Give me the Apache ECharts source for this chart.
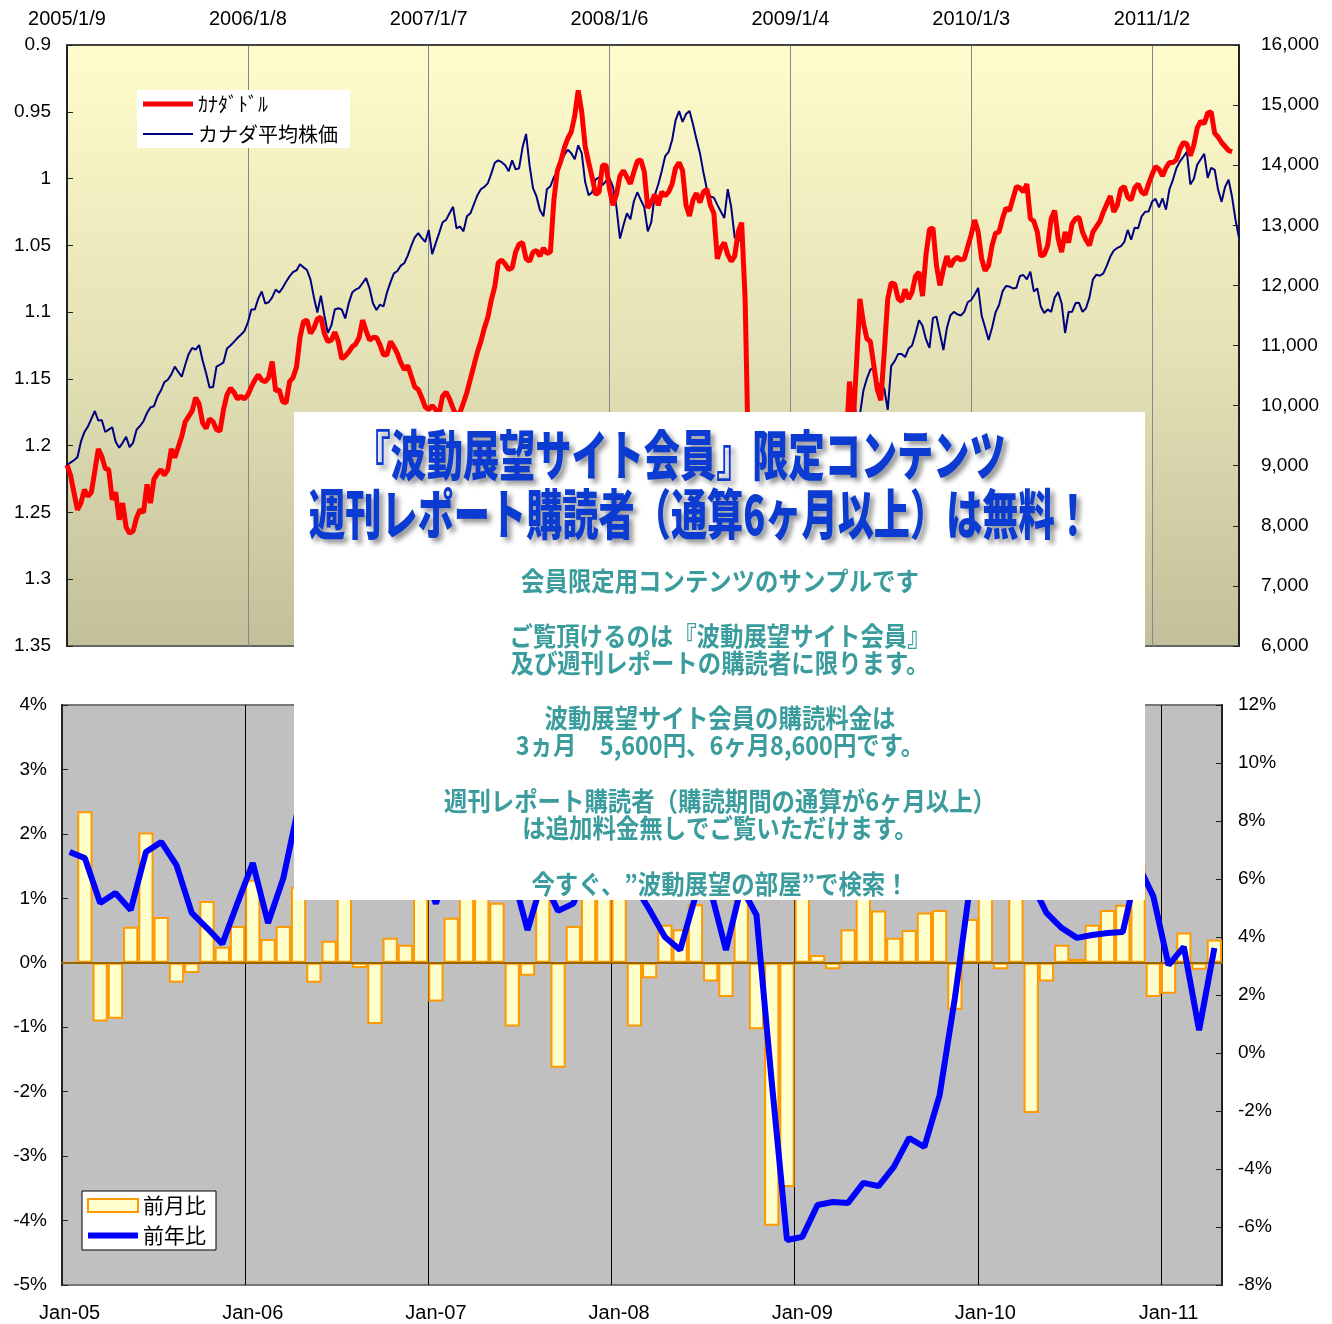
<!DOCTYPE html>
<html><head><meta charset="utf-8">
<script src="https://cdn.jsdelivr.net/npm/echarts@6/dist/echarts.min.js"></script>
<style>html,body{margin:0;padding:0;background:#fff}#c{width:1332px;height:1324px}</style>
</head><body><div id="c"></div>
<script>
// ---------- DATA ----------
const weekStart = [2005, 1, 9];     // first weekly category
const weekCount = 338;
const monthStart = [2005, 1];        // first monthly category
const monthCount = 76;
const monthNames = ['Jan','Feb','Mar','Apr','May','Jun','Jul','Aug','Sep','Oct','Nov','Dec'];

// カナダドル (USD/CAD), weekly, left inverted axis
const cadValues = [
1.2145,1.222,1.235,1.248,1.243,1.233,1.238,1.235,1.219,1.2025,
1.208,1.217,1.218,1.2405,1.235,1.2555,1.243,1.261,1.2655,1.264,
1.254,1.248,1.250,1.229,1.243,1.225,1.221,1.218,1.222,1.218,
1.2025,1.209,1.201,1.193,1.182,1.178,1.174,1.164,1.169,1.183,
1.187,1.180,1.182,1.188,1.189,1.173,1.162,1.157,1.160,1.165,
1.163,1.165,1.162,1.156,1.151,1.147,1.151,1.152,1.149,1.137,
1.159,1.158,1.167,1.168,1.152,1.149,1.141,1.119,1.107,1.106,
1.116,1.112,1.105,1.104,1.116,1.122,1.121,1.115,1.122,1.135,
1.133,1.130,1.126,1.124,1.119,1.106,1.114,1.121,1.119,1.119,
1.1245,1.132,1.132,1.122,1.126,1.131,1.138,1.143,1.140,1.148,
1.156,1.158,1.164,1.171,1.173,1.170,1.173,1.176,1.163,1.160,
1.165,1.172,1.178,1.175,1.168,1.160,1.150,1.140,1.130,1.122,
1.112,1.104,1.091,1.081,1.063,1.061,1.064,1.068,1.067,1.055,
1.049,1.048,1.060,1.062,1.055,1.054,1.058,1.052,1.056,1.055,
1.016,0.994,0.987,0.977,0.970,0.965,0.953,0.934,0.950,0.976,
0.988,0.999,1.012,1.010,0.990,0.990,1.008,1.020,1.012,0.998,
0.994,0.999,1.004,0.995,0.987,0.986,0.995,1.022,1.018,1.012,
1.020,1.010,1.013,1.010,1.004,0.992,0.988,0.994,1.020,1.028,
1.016,1.011,1.018,1.010,1.008,1.020,1.026,1.060,1.052,1.048,
1.057,1.062,1.058,1.040,1.033,1.091,1.22,1.24,1.21,1.23,
1.22,1.25,1.24,1.22,1.23,1.25,1.26,1.24,1.22,1.23,
1.25,1.24,1.26,1.27,1.25,1.27,1.29,1.26,1.25,1.24,
1.22,1.21,1.20,1.19,1.20,1.152,1.185,1.14,1.090,1.108,
1.12,1.122,1.14,1.158,1.166,1.13,1.09,1.078,1.079,1.09,
1.092,1.083,1.09,1.085,1.073,1.07,1.088,1.057,1.038,1.037,
1.065,1.080,1.068,1.058,1.066,1.061,1.059,1.061,1.060,1.051,
1.042,1.031,1.040,1.060,1.069,1.065,1.050,1.041,1.040,1.030,
1.022,1.024,1.015,1.006,1.007,1.010,1.004,1.030,1.032,1.040,
1.058,1.057,1.050,1.030,1.024,1.045,1.055,1.040,1.048,1.034,
1.030,1.029,1.040,1.046,1.050,1.040,1.036,1.032,1.025,1.019,
1.013,1.025,1.020,1.008,1.006,1.014,1.016,1.007,1.004,1.010,
1.012,1.004,0.997,0.991,0.993,0.998,0.992,0.988,0.988,0.986,
0.978,0.973,0.974,0.983,0.975,0.962,0.957,0.959,0.951,0.950,
0.966,0.969,0.973,0.976,0.979,0.980,null,null];

// カナダ平均株価, weekly, right axis
const tsxValues = [
9011,9050,9090,9140,9400,9560,9650,9780,9910,9750,
9760,9560,9600,9640,9400,9300,9380,9480,9310,9380,
9600,9660,9740,9877,9970,9990,10150,10250,10390,10430,
10520,10650,10560,10480,10680,10860,10960,10930,11008,10750,
10540,10300,10310,10650,10680,10720,10950,11000,11060,11124,
11180,11240,11380,11600,11600,11780,11900,11700,11720,11800,
11930,11880,11960,12060,12150,12223,12250,12350,12300,12256,
12100,11800,11550,11830,11500,11210,11330,11600,11620,11600,
11450,11700,11880,11930,11960,12040,12120,11950,11700,11590,
11680,11650,11880,12050,12200,12240,12330,12370,12500,12660,
12800,12870,12790,12723,12923,12520,12700,12870,13050,13090,
13200,13307,12950,12980,12900,13150,13200,13350,13500,13600,
13640,13700,13860,14040,14080,14050,14000,13900,14080,13930,
13950,14300,14520,14000,13620,13480,13250,13150,13600,13650,
13800,13900,14040,14170,14257,14200,14100,14330,14200,13720,
13500,13550,13760,13800,13670,13740,13780,13640,13300,12780,
13000,13200,13100,13400,13550,13420,13300,12900,13050,13500,
13680,13900,14150,14220,14420,14750,14900,14720,14850,14900,
14680,14430,14200,13880,13600,13480,13460,13340,13230,13120,
13600,13300,12790,12820,12700,11757,9400,8900,9100,8700,
9200,8600,8300,7900,8600,8800,8400,8700,8900,8600,
8800,9000,8700,8200,8100,7800,7600,8000,8300,8500,
8700,9000,9200,9300,9400,9600,10230,9800,9850,10250,
10450,10600,10620,10293,10376,10280,9930,10660,10740,10860,
10860,10808,10950,11000,11200,11420,11330,11100,10960,11460,
11480,11200,10925,11290,11500,11560,11520,11500,11560,11720,
11757,11850,11957,11500,11300,11091,11300,11550,11674,11900,
11990,11980,11950,11960,12157,12173,12100,12230,11900,11950,
11650,11540,11600,11560,11800,11890,11700,11208,11557,11560,
11707,11710,11560,11620,11800,12100,12180,12160,12200,12330,
12480,12580,12623,12650,12720,12923,12760,12960,12950,13150,
13224,13230,13390,13440,13300,13450,13260,13600,13757,13950,
14060,14140,14223,13680,13770,14010,14100,14190,13790,13957,
13924,13590,13390,13640,13757,13474,13090,12790];

// 前月比 (%), monthly bars, left axis
const momValues = [
0, 2.35, -0.91, -0.87, 0.56, 2.02, 0.71, -0.31, -0.16, 0.96, 0.25, 0.57,
1.29, 0.37, 0.57, 1.18, -0.31, 0.34, 1.5, -0.08, -0.95, 0.39, 0.28, 1.2,
-0.6, 0.70, 1.1, 1.6, 0.93, -0.99, -0.2, 1.3, -1.63, 0.57, 1.4, 1.2,
1.1, -0.99, -0.24, 0.59, 0.52, 0.91, -0.29, -0.53, 1.3, -1.03, -4.08, -3.48,
2.0, 0.12, -0.1, 0.52, 1.4, 0.81, 0.39, 0.51, 0.78, 0.82, -0.73, 0.68,
1.5, -0.1, 1.3, -2.33, -0.29, 0.28, 0.06, 0.59, 0.82, 0.90, 1.52, -0.53,
-0.48, 0.47, -0.11, 0.36];

// 前年比 (%), monthly line, right axis
const yoyValues = [
6.93, 6.72, 5.17, 5.52, 4.93, 6.93, 7.28, 6.48, 4.83, 4.31, 3.76, 5.17,
6.55, 4.48, 6.03, 8.5, 9.2, 8.8, 9.5, 8.0, 7.2, 7.8, 6.9, 6.5,
5.15, 6.8, 7.5, 8.2, 7.0, 6.2, 4.24, 6.0, 4.9, 5.15, 6.5, 7.0,
6.6, 5.8, 4.93, 4.0, 3.55, 5.4, 5.6, 3.55, 5.73, 4.76, -1.0, -6.45,
-6.34, -5.24, -5.14, -5.17, -4.48, -4.59, -3.93, -2.93, -3.24, -1.45, 1.9, 5.8,
9.0, 10.0, 8.0, 5.9, 4.83, 4.31, 3.97, 4.07, 4.14, 4.17, 6.5, 5.4,
3.03, 3.66, 0.79, 3.62];

const seriesNames = ['ｶﾅﾀﾞﾄﾞﾙ', 'カナダ平均株価', '前月比', '前年比'];
const titleLines = ['『波動展望サイト会員』限定コンテンツ', '週刊レポート購読者（通算6ヶ月以上）は無料！'];
const noteLines = [
  '会員限定用コンテンツのサンプルです',
  'ご覧頂けるのは『波動展望サイト会員』',
  '及び週刊レポートの購読者に限ります。',
  '波動展望サイト会員の購読料金は',
  '3ヵ月　5,600円、6ヶ月8,600円です。',
  '週刊レポート購読者（購読期間の通算が6ヶ月以上）',
  'は追加料金無しでご覧いただけます。',
  '今すぐ、”波動展望の部屋”で検索！'
];

// ---------- categories ----------
const weeks = [];
{
  const t0 = Date.UTC(weekStart[0], weekStart[1]-1, weekStart[2]);
  for (let i = 0; i < weekCount; i++) {
    const d = new Date(t0 + i*7*86400000);
    weeks.push(d.getUTCFullYear() + '/' + (d.getUTCMonth()+1) + '/' + d.getUTCDate());
  }
}
const months = [];
for (let i = 0; i < monthCount; i++) {
  const m = (monthStart[1]-1 + i) % 12;
  const y = monthStart[0] + Math.floor((monthStart[1]-1 + i)/12);
  months.push(monthNames[m] + '-' + String(y % 100).padStart(2,'0'));
}

// ---------- chart ----------
const chart = echarts.init(document.getElementById('c'), null, {renderer:'canvas'});
const numFont = '"Liberation Sans", Arial, sans-serif';
const jpFont = '"Noto Sans CJK JP", sans-serif';

const noteY = [581, 636, 663, 718, 745, 801, 828, 884];
const titleStyle = {fill:'#0B3BD0', fontSize:54, fontWeight:900, fontFamily:jpFont,
  align:'center', verticalAlign:'middle',
  textShadowColor:'rgba(60,60,60,0.55)', textShadowBlur:5, textShadowOffsetX:4, textShadowOffsetY:4};
const graphic = [
  {type:'rect', z:100, shape:{x:294, y:412, width:851, height:488}, style:{fill:'#ffffff'}},
  {type:'text', z:101, x:680, y:455, scaleX:0.67, style:Object.assign({text:titleLines[0]}, titleStyle)},
  {type:'text', z:101, x:700, y:514, scaleX:0.67, style:Object.assign({text:titleLines[1]}, titleStyle)}
];
noteLines.forEach((t, i) => {
  graphic.push({type:'text', z:101, x:720, y:noteY[i], scaleX:0.9, style:{text:t, fill:'#3A9C9C',
    fontSize:26, fontWeight:'bold', fontFamily:jpFont, align:'center', verticalAlign:'middle'}});
});

const option = {
  animation: false,
  backgroundColor: '#ffffff',
  grid: [
    {left:67, top:45, width:1172, height:601, show:true, borderColor:'#666', borderWidth:2,
     backgroundColor: new echarts.graphic.LinearGradient(0,0,0,1,[{offset:0,color:'#FFFDCC'},{offset:0.5,color:'#E4E2B6'},{offset:1,color:'#C2C09A'}])},
    {left:62, top:705, width:1160, height:580, show:true, borderColor:'#777', borderWidth:2, backgroundColor:'#C0C0C0'}
  ],
  legend: [
    {data:[{name:seriesNames[0], icon:'path://M0,0H50V5H0Z'}, {name:seriesNames[1], icon:'path://M0,0H50V2H0Z'}],
     orient:'vertical', left:137, top:90, backgroundColor:'#ffffff',
     padding:[4,12,4,6], itemWidth:50, itemHeight:14, itemGap:10,
     textStyle:{fontSize:20, fontFamily:jpFont, color:'#000'}},
    {data:[{name:seriesNames[2], icon:'rect'}, {name:seriesNames[3], icon:'path://M0,0H50V6H0Z'}],
     orient:'vertical', left:82, top:1191, backgroundColor:'#ffffff',
     borderColor:'#000', borderWidth:1, padding:[4,10,4,5], itemWidth:50, itemHeight:13, itemGap:9,
     textStyle:{fontSize:21, fontFamily:jpFont, color:'#000'}}
  ],
  xAxis: [
    {gridIndex:0, type:'category', position:'top', boundaryGap:false, data:weeks,
     axisLine:{lineStyle:{color:'#444', width:2}}, axisTick:{show:false},
     axisLabel:{interval:51, fontSize:20, fontFamily:numFont, color:'#000', margin:16},
     splitLine:{show:true, interval:51, lineStyle:{color:'#888', width:1}}},
    {gridIndex:1, type:'category', position:'bottom', boundaryGap:true, data:months,
     axisLine:{lineStyle:{color:'#777', width:2}}, axisTick:{show:false},
     axisLabel:{interval:11, fontSize:20, fontFamily:numFont, color:'#000', margin:18},
     splitLine:{show:true, interval:11, lineStyle:{color:'#000', width:1}}}
  ],
  yAxis: [
    {gridIndex:0, type:'value', position:'left', inverse:true, min:0.9, max:1.35, interval:0.05,
     axisLine:{show:true, lineStyle:{color:'#222', width:2}},
     axisTick:{show:true, inside:true, length:6, lineStyle:{color:'#222'}},
     axisLabel:{fontSize:19, fontFamily:numFont, color:'#000', margin:16},
     splitLine:{show:false}},
    {gridIndex:0, type:'value', position:'right', min:6000, max:16000, interval:1000,
     axisLine:{show:true, lineStyle:{color:'#222', width:2}},
     axisTick:{show:true, inside:true, length:6, lineStyle:{color:'#222'}},
     axisLabel:{fontSize:19, fontFamily:numFont, color:'#000', margin:22,
       formatter: v => v.toLocaleString('en-US')},
     splitLine:{show:false}},
    {gridIndex:1, type:'value', position:'left', min:-5, max:4, interval:1,
     axisLine:{show:true, lineStyle:{color:'#222', width:2}},
     axisTick:{show:true, inside:true, length:6, lineStyle:{color:'#222'}},
     axisLabel:{fontSize:19, fontFamily:numFont, color:'#000', margin:15, formatter:'{value}%'},
     splitLine:{show:false}},
    {gridIndex:1, type:'value', position:'right', min:-8, max:12, interval:2,
     axisLine:{show:true, lineStyle:{color:'#222', width:2}},
     axisTick:{show:true, inside:true, length:6, lineStyle:{color:'#222'}},
     axisLabel:{fontSize:19, fontFamily:numFont, color:'#000', margin:16, formatter:'{value}%'},
     splitLine:{show:false}}
  ],
  series: [
    {name:seriesNames[1], type:'line', xAxisIndex:0, yAxisIndex:1, data:tsxValues, symbol:'none',
     color:'#000080', lineStyle:{color:'#000080', width:2}, z:3},
    {name:seriesNames[0], type:'line', xAxisIndex:0, yAxisIndex:0, data:cadValues, symbol:'none',
     color:'#FF0000', lineStyle:{color:'#FF0000', width:5}, z:4, connectNulls:false},
    {name:seriesNames[2], type:'bar', xAxisIndex:1, yAxisIndex:2, data:momValues, barCategoryGap:'0%',
     itemStyle:{color:'#FFFFCC', borderColor:'#FF9900', borderWidth:2},
     markLine:{silent:true, symbol:['none','none'], label:{show:false},
       lineStyle:{color:'#996600', width:2, type:'solid'}, data:[{yAxis:0}]}},
    {name:seriesNames[3], type:'line', xAxisIndex:1, yAxisIndex:3, data:yoyValues, symbol:'none',
     color:'#0000FF', lineStyle:{color:'#0000FF', width:6}, z:5}
  ],
  graphic: graphic
};
chart.setOption(option);
</script>
</body></html>
